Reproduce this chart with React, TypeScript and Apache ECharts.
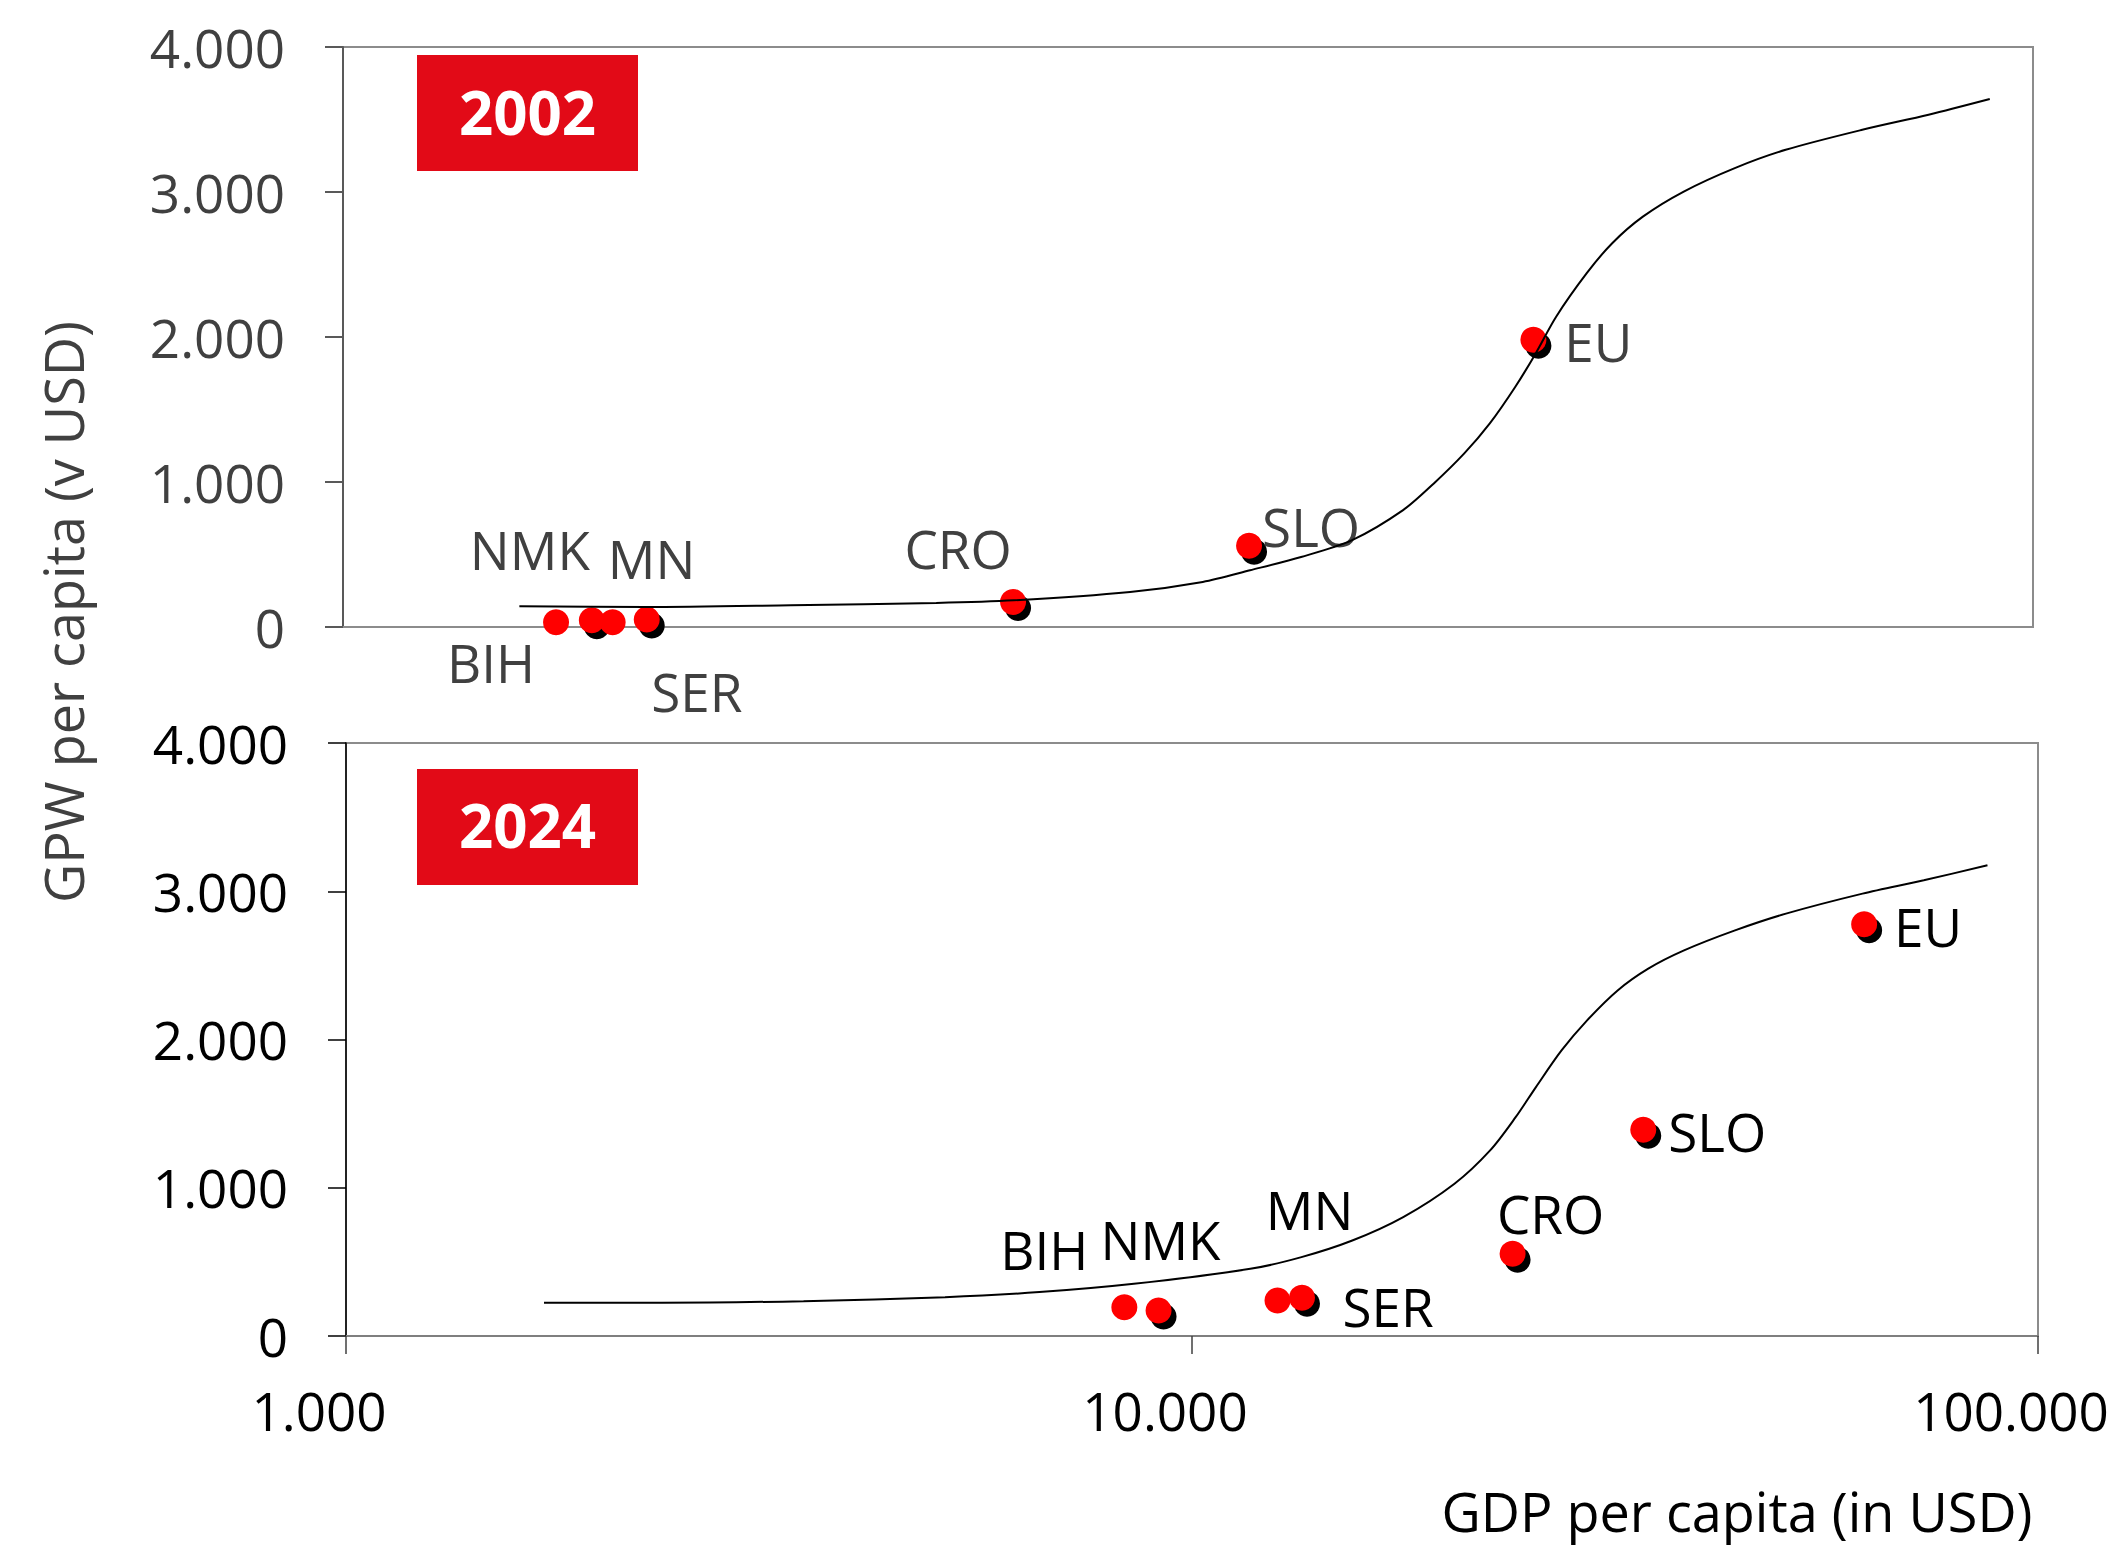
import React, { useEffect, useRef } from 'react';
import * as echarts from 'echarts';

// ---- Data ----
const countries = ['BIH', 'NMK', 'MN', 'SER', 'CRO', 'SLO', 'EU'];
const shadowed = ['NMK', 'SER', 'CRO', 'SLO', 'EU'];

const gdp2002 = [1787, 1970, 2085, 2288, 6208, 11810, 25630];
const gpw2002 = [32, 46, 32, 51, 173, 560, 1981];

const gdp2024 = [8318, 9130, 12620, 13490, 23930, 34150, 62300];
const gpw2024 = [194, 172, 240, 258, 555, 1391, 2777];

const curveX2002 = [1617, 2280, 3388, 5036, 6220, 8540, 10410, 11840, 13610, 15640, 17970, 19540, 21230, 22760, 24400, 25790, 27270, 29640, 31770, 34540, 38610, 44370, 50970, 62800, 75230, 88890];
const curveY2002 = [143, 138, 150, 166, 184, 242, 311, 391, 483, 599, 806, 990, 1197, 1404, 1657, 1887, 2140, 2440, 2647, 2830, 3003, 3165, 3291, 3429, 3533, 3641];

const curveX2024 = [1714, 2363, 3474, 5106, 6601, 8537, 11720, 13470, 15470, 17770, 20430, 22510, 24130, 25500, 27340, 29310, 31850, 34620, 38160, 43840, 50360, 62030, 73280, 87150];
const curveY2024 = [224, 224, 235, 262, 296, 352, 453, 532, 644, 802, 1027, 1252, 1476, 1679, 1926, 2129, 2331, 2478, 2601, 2736, 2849, 2984, 3074, 3175];

const yearLabels = ['2002', '2024'];
const yAxisName = 'GPW per capita (v USD)';
const xAxisName = 'GDP per capita (in USD)';

// label offsets (px) relative to point, per panel
const labelOffset2002: Record<string, number[]> = {
  BIH: [-65, 40], NMK: [-62, -71], MN: [39, -64], SER: [50, 72], CRO: [-55, -53], SLO: [62, -19], EU: [65, 2],
};
const labelOffset2024: Record<string, number[]> = {
  BIH: [-80, -58], NMK: [2, -71], MN: [32, -91], SER: [86, 9], CRO: [38, -40], SLO: [74, 2], EU: [64, 2],
};

const FONT = "'Open Sans', 'Noto Sans', sans-serif";
const RED_BOX = '#E20A17';
const FS = 53;

function fmt(v: number): string {
  return String(Math.round(v)).replace(/\B(?=(\d{3})+(?!\d))/g, '.');
}

function buildSeries(idx: number, gdp: number[], gpw: number[], cx: number[], cy: number[], offsets: Record<string, number[]>, textColor: string) {
  return [
    {
      type: 'scatter',
      xAxisIndex: idx,
      yAxisIndex: idx,
      symbolSize: 26,
      symbolOffset: [5, 6],
      itemStyle: { color: '#000', opacity: 1 },
      z: 2,
      silent: true,
      data: countries
        .map((c, i) => ({ c, v: [gdp[i], gpw[i]] }))
        .filter((d) => shadowed.includes(d.c))
        .map((d) => ({ name: d.c, value: d.v })),
    },
    {
      type: 'scatter',
      xAxisIndex: idx,
      yAxisIndex: idx,
      symbolSize: 26,
      itemStyle: { color: '#FF0000', opacity: 1 },
      z: 3,
      silent: true,
      label: {
        show: true,
        position: 'inside',
        formatter: '{b}',
        fontSize: FS,
        fontFamily: FONT,
        color: textColor,
        align: 'center',
        verticalAlign: 'middle',
      },
      data: countries.map((c, i) => ({
        name: c,
        value: [gdp[i], gpw[i]],
        label: { offset: offsets[c] },
      })),
    },
    {
      type: 'line',
      xAxisIndex: idx,
      yAxisIndex: idx,
      smooth: 0.3,
      showSymbol: false,
      symbol: 'none',
      silent: true,
      z: 4,
      lineStyle: { color: '#000', width: 2 },
      data: cx.map((x, i) => [x, cy[i]]),
    },
  ];
}

export default function App() {
  const ref = useRef<HTMLDivElement>(null);

  useEffect(() => {
    if (!ref.current) return;
    const chart = echarts.init(ref.current, null, { renderer: 'svg' });

    const option: any = {
      animation: false,
      backgroundColor: '#fff',
      grid: [
        { left: 343, top: 47, right: 82, height: 580, show: true, borderColor: '#8c8c8c', borderWidth: 2, outerBoundsMode: 'none' },
        { left: 346, top: 743, right: 77, height: 593, show: true, borderColor: '#8c8c8c', borderWidth: 2, outerBoundsMode: 'none' },
      ],
      xAxis: [
        {
          type: 'log', logBase: 10, gridIndex: 0, min: 1000, max: 100000,
          axisLine: { show: true, onZero: false, lineStyle: { color: '#8c8c8c', width: 2 } },
          axisTick: { show: false }, axisLabel: { show: false }, splitLine: { show: false },
        },
        {
          type: 'log', logBase: 10, gridIndex: 1, min: 1000, max: 100000,
          axisLine: { show: true, onZero: false, lineStyle: { color: '#7f7f7f', width: 2 } },
          axisTick: { show: true, length: 18, lineStyle: { color: '#404040', width: 1.5 } },
          axisLabel: { fontSize: FS, fontFamily: FONT, color: '#000', margin: 48, padding: [0, 54, 0, 0], formatter: (v: number) => fmt(v) },
          splitLine: { show: false },
        },
      ],
      yAxis: [
        {
          type: 'value', gridIndex: 0, min: 0, max: 4000, interval: 1000,
          axisLine: { show: true, lineStyle: { color: '#595959', width: 2 } },
          axisTick: { show: true, length: 18, lineStyle: { color: '#595959', width: 2 } },
          axisLabel: { fontSize: FS, fontFamily: FONT, color: '#404040', margin: 58, formatter: (v: number) => fmt(v) },
          splitLine: { show: false },
        },
        {
          type: 'value', gridIndex: 1, min: 0, max: 4000, interval: 1000,
          axisLine: { show: true, lineStyle: { color: '#000', width: 1.5 } },
          axisTick: { show: true, length: 18, lineStyle: { color: '#000', width: 1.5 } },
          axisLabel: { fontSize: FS, fontFamily: FONT, color: '#000', margin: 58, formatter: (v: number) => fmt(v) },
          splitLine: { show: false },
        },
      ],
      series: [
        ...buildSeries(0, gdp2002, gpw2002, curveX2002, curveY2002, labelOffset2002, '#404040'),
        ...buildSeries(1, gdp2024, gpw2024, curveX2024, curveY2024, labelOffset2024, '#000'),
      ],
      graphic: [
        { type: 'rect', left: 417, top: 55, shape: { width: 221, height: 116 }, style: { fill: RED_BOX }, z: 10 },
        { type: 'text', x: 527.5, y: 112, z: 11, style: { text: yearLabels[0], fill: '#fff', fontSize: 60, fontWeight: 'bold', fontFamily: FONT, align: 'center', verticalAlign: 'middle' } },
        { type: 'rect', left: 417, top: 769, shape: { width: 221, height: 116 }, style: { fill: RED_BOX }, z: 10 },
        { type: 'text', x: 527.5, y: 825, z: 11, style: { text: yearLabels[1], fill: '#fff', fontSize: 60, fontWeight: 'bold', fontFamily: FONT, align: 'center', verticalAlign: 'middle' } },
        { type: 'text', x: 63, y: 612, rotation: Math.PI / 2, style: { text: yAxisName, fill: '#404040', fontSize: 54, fontFamily: FONT, align: 'center', verticalAlign: 'middle' } },
        { type: 'text', x: 1737, y: 1511, style: { text: xAxisName, fill: '#000', fontSize: 54, fontFamily: FONT, align: 'center', verticalAlign: 'middle' } },
      ],
    };

    chart.setOption(option);
    return () => chart.dispose();
  }, []);

  return (
    <div
      ref={ref}
      style={{ position: 'fixed', left: 0, top: 0, width: 2115, height: 1547, background: '#fff' }}
    />
  );
}
